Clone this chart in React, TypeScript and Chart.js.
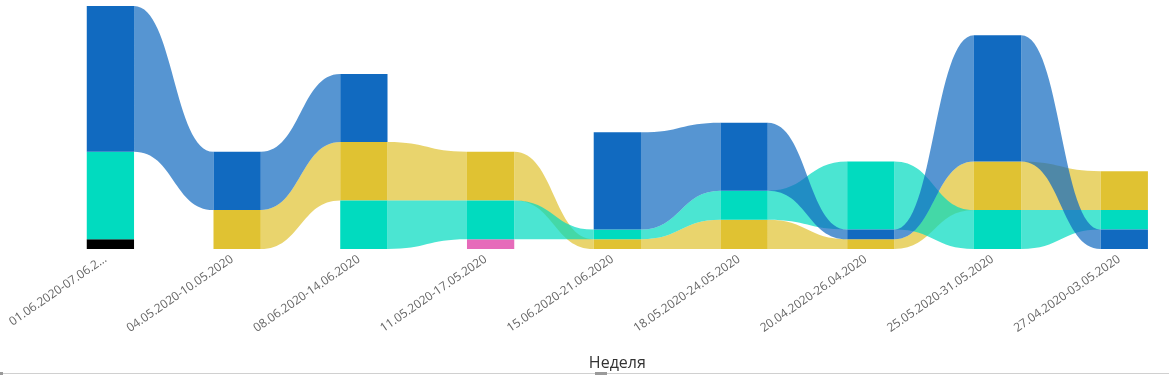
import React, { useEffect, useRef } from "react";
import { Chart, registerables } from "chart.js";

Chart.register(...registerables);

const categories = [
  "01.06.2020-07.06.2020",
  "04.05.2020-10.05.2020",
  "08.06.2020-14.06.2020",
  "11.05.2020-17.05.2020",
  "15.06.2020-21.06.2020",
  "18.05.2020-24.05.2020",
  "20.04.2020-26.04.2020",
  "25.05.2020-31.05.2020",
  "27.04.2020-03.05.2020",
];

const tickLabels = [
  "01.06.2020-07.06.2…",
  "04.05.2020-10.05.2020",
  "08.06.2020-14.06.2020",
  "11.05.2020-17.05.2020",
  "15.06.2020-21.06.2020",
  "18.05.2020-24.05.2020",
  "20.04.2020-26.04.2020",
  "25.05.2020-31.05.2020",
  "27.04.2020-03.05.2020",
];

const seriesNames = ["Серия 1", "Серия 2", "Серия 3", "Серия 4", "Серия 5"];
const blueValues = [15, 6, 7, 0, 10, 7, 1, 13, 2];
const tealValues = [9, 0, 5, 4, 1, 3, 7, 4, 2];
const yellowValues = [0, 4, 6, 5, 1, 3, 1, 5, 4];
const blackValues = [1, 0, 0, 0, 0, 0, 0, 0, 0];
const pinkValues = [0, 0, 0, 1, 0, 0, 0, 0, 0];

const seriesValues = [blueValues, tealValues, yellowValues, blackValues, pinkValues];
const barColors = ["#116AC0", "#01DBBF", "#E0C232", "#000000", "#E66BBA"];
const ribbonColors = [
  "rgba(17,106,192,0.71)",
  "rgba(1,219,191,0.71)",
  "rgba(224,194,50,0.71)",
  "rgba(0,0,0,0.71)",
  "rgba(230,107,186,0.71)",
];
// on equal values, higher priority is stacked higher
const tiePriority = [2, 3, 1, 0, 0];
const ribbonDrawOrder = [2, 1, 0, 3, 4];
const yMax = 25;

function buildRanges(): ([number, number] | null)[][] {
  const out = seriesValues.map(() => categories.map(() => null as [number, number] | null));
  categories.forEach((_, ci) => {
    const present = seriesValues
      .map((vals, si) => ({ si, v: vals[ci] }))
      .filter((d) => d.v > 0)
      .sort((a, b) => a.v - b.v || tiePriority[a.si] - tiePriority[b.si]);
    let acc = 0;
    present.forEach((d) => {
      out[d.si][ci] = [acc, acc + d.v];
      acc += d.v;
    });
  });
  return out;
}

const ribbonPlugin = {
  id: "ribbons",
  beforeDatasetsDraw(chart: any) {
    const ctx = chart.ctx as CanvasRenderingContext2D;
    ctx.save();
    for (const di of ribbonDrawOrder) {
      const meta = chart.getDatasetMeta(di);
      const vals = seriesValues[di];
      for (let i = 0; i < categories.length - 1; i++) {
        if (!vals[i] || !vals[i + 1]) continue;
        const a: any = meta.data[i];
        const b: any = meta.data[i + 1];
        const x0 = a.x + a.width / 2;
        const x1 = b.x - b.width / 2;
        const xm = (x0 + x1) / 2;
        const t0 = Math.min(a.y, a.base);
        const b0 = Math.max(a.y, a.base);
        const t1 = Math.min(b.y, b.base);
        const b1 = Math.max(b.y, b.base);
        ctx.beginPath();
        ctx.moveTo(x0, t0);
        ctx.bezierCurveTo(xm, t0, xm, t1, x1, t1);
        ctx.lineTo(x1, b1);
        ctx.bezierCurveTo(xm, b1, xm, b0, x0, b0);
        ctx.closePath();
        ctx.fillStyle = ribbonColors[di];
        ctx.fill();
      }
    }
    ctx.restore();
  },
  afterDraw(chart: any) {
    const ctx = chart.ctx as CanvasRenderingContext2D;
    ctx.save();
    ctx.fillStyle = "#D0D0D0";
    ctx.fillRect(0, 373, chart.width, 1);
    ctx.fillStyle = "#9A9A9A";
    ctx.fillRect(0, 372, 3, 3);
    ctx.fillRect(595, 372, 12, 3);
    ctx.restore();
  },
};

export default function App() {
  const ref = useRef<HTMLCanvasElement | null>(null);
  useEffect(() => {
    document.body.style.margin = "0";
    if (!ref.current) return;
    const ranges = buildRanges();
    const chart = new Chart(ref.current, {
      type: "bar",
      data: {
        labels: categories,
        datasets: seriesNames.map((name, si) => ({
          label: name,
          data: ranges[si] as any,
          backgroundColor: barColors[si],
          borderWidth: 0,
          categoryPercentage: 1,
          barPercentage: 0.373,
          clip: false as any,
        })),
      },
      options: {
        responsive: false,
        animation: false,
        layout: { padding: { left: 110.4, right: 44.7, top: 6, bottom: 0 } },
        plugins: { legend: { display: false }, tooltip: { enabled: false } },
        scales: {
          x: {
            stacked: true,
            offset: false,
            grid: { display: false, drawTicks: false },
            border: { display: false },
            afterFit(scale: any) {
              scale.height = 126;
            },
            ticks: {
              autoSkip: false,
              minRotation: 34.5,
              maxRotation: 34.5,
              padding: 3,
              labelOffset: -5,
              color: "#666666",
              font: { family: "'Open Sans', sans-serif", size: 12 },
              callback: (_v: any, i: number) => tickLabels[i],
            },
            title: {
              display: true,
              text: "Неделя",
              color: "#333333",
              font: { family: "'Open Sans', sans-serif", size: 16 },
              padding: { top: 4, bottom: 2 },
            },
          },
          y: {
            display: false,
            stacked: false,
            min: 0,
            max: yMax,
          },
        },
      },
      plugins: [ribbonPlugin],
    });
    return () => chart.destroy();
  }, []);
  return (
    <div style={{ width: 1169, height: 375 }}>
      <canvas ref={ref} width={1169} height={375} style={{ display: "block" }} />
    </div>
  );
}
